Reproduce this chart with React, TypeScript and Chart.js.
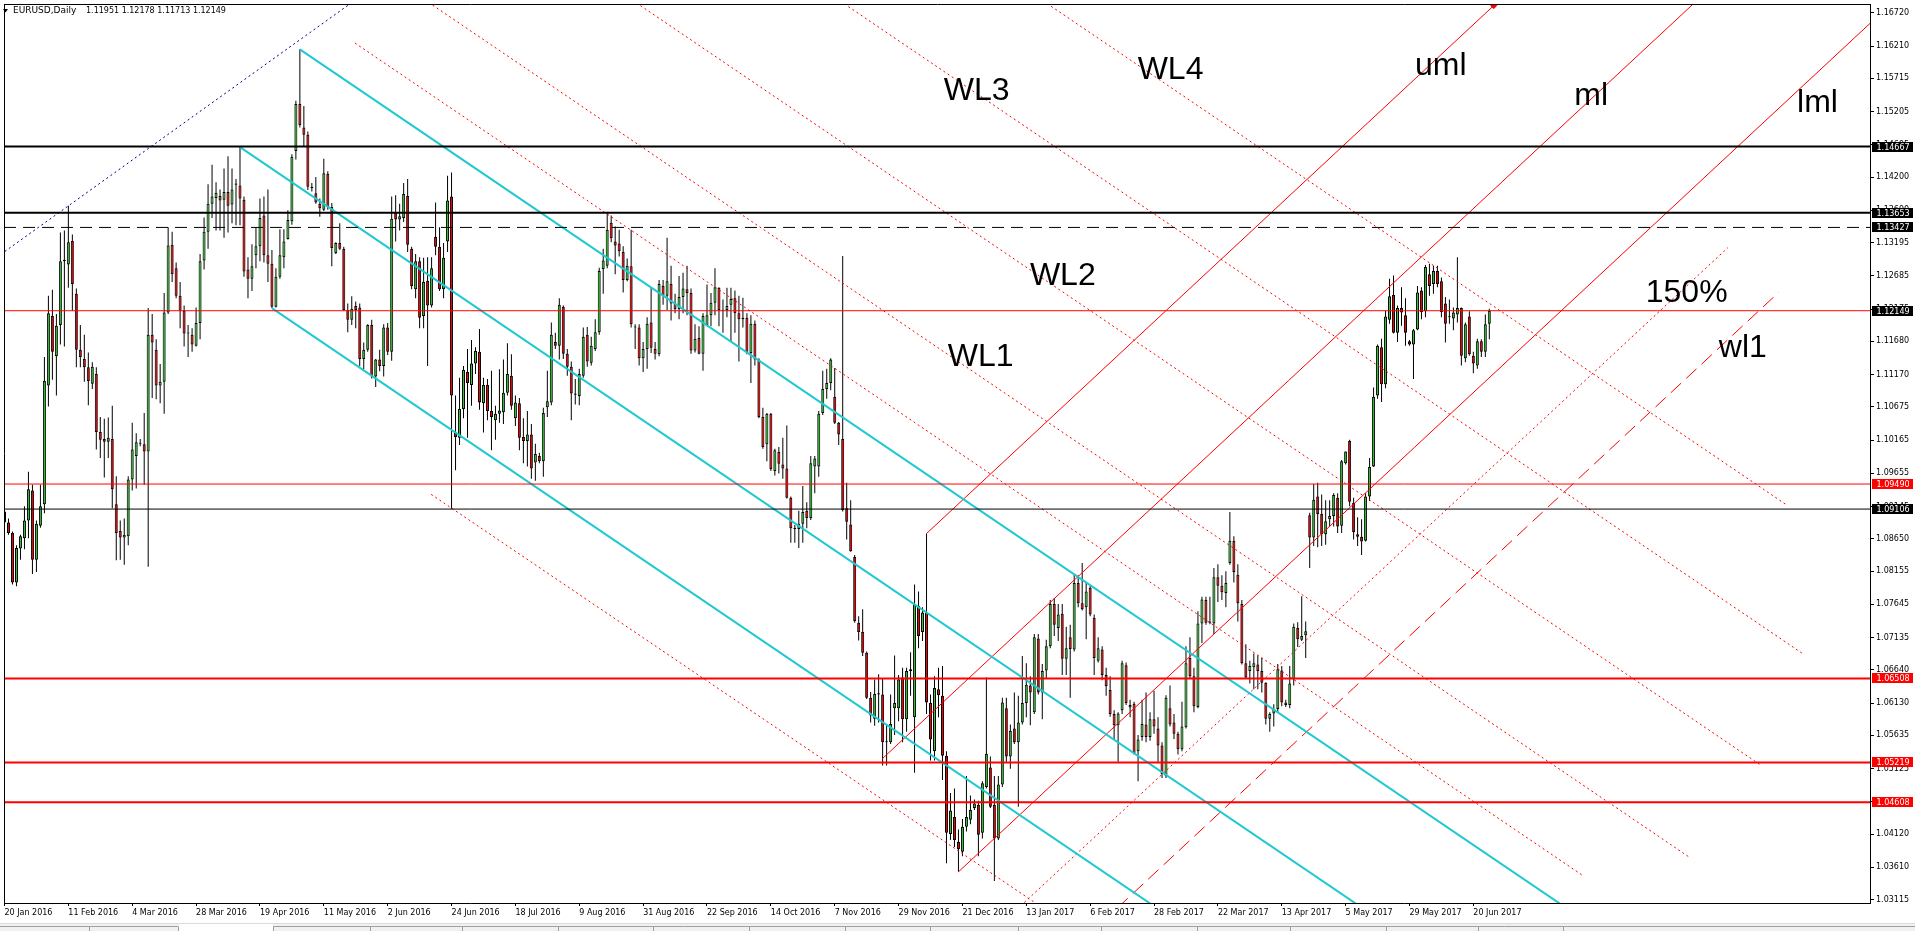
import React, { useEffect, useRef } from 'react';
import { Chart, registerables } from 'chart.js';

Chart.register(...registerables);

// ---------------- DATA ----------------
const opens = [
  1.0907,1.0890,1.0874,1.0798,1.0850,1.0866,1.0893,1.0939,1.0833,1.0885,
  1.0918,1.1100,1.1207,1.1145,1.1193,1.1291,1.1286,1.1322,1.1241,1.1155,
  1.1141,1.1128,1.1103,1.1118,1.1029,1.1018,1.1014,1.1018,1.0918,1.0877,
  1.0867,1.0869,1.0956,1.0992,1.1012,1.1010,1.0999,1.1178,1.1155,1.1100,
  1.1106,1.1212,1.1316,1.1280,1.1238,1.1215,1.1180,1.1178,1.1161,1.1196,
  1.1292,1.1336,1.1379,1.1388,1.1391,1.1385,1.1397,1.1378,1.1408,1.1407,
  1.1385,1.1278,1.1264,1.1300,1.1314,1.1361,1.1300,1.1287,1.1221,1.1267,
  1.1297,1.1325,1.1352,1.1460,1.1532,1.1496,1.1485,1.1405,1.1395,1.1379,
  1.1370,1.1425,1.1374,1.1303,1.1319,1.1310,1.1216,1.1201,1.1222,1.1220,
  1.1141,1.1155,1.1193,1.1114,1.1140,1.1130,1.1189,1.1152,1.1365,1.1355,
  1.1357,1.1391,1.1310,1.1248,1.1291,1.1207,1.1261,1.1223,1.1328,1.1313,
  1.1248,1.1321,1.1390,1.1028,1.1020,1.1064,1.1121,1.1101,1.1134,1.1152,
  1.1073,1.1101,1.1061,1.1047,1.1057,1.1059,1.1089,1.1115,1.1050,1.1073,
  1.1021,1.1015,1.1025,1.0982,1.0992,1.0984,1.1067,1.1074,1.1167,1.1161,
  1.1221,1.1149,1.1129,1.1088,1.1084,1.1115,1.1178,1.1135,1.1156,1.1182,
  1.1279,1.1284,1.1350,1.1321,1.1318,1.1305,1.1262,1.1283,1.1190,1.1189,
  1.1142,1.1156,1.1197,1.1156,1.1148,1.1253,1.1238,1.1256,1.1226,1.1217,
  1.1236,1.1248,1.1242,1.1154,1.1173,1.1149,1.1193,1.1208,1.1227,1.1250,
  1.1216,1.1216,1.1224,1.1234,1.1211,1.1204,1.1204,1.1150,1.1195,1.1140,
  1.1052,1.1010,1.1057,1.0969,1.0998,1.0979,1.0973,1.0928,1.0882,1.0880,
  1.0888,1.0908,1.0897,1.0976,1.0976,1.1058,1.1095,1.1104,1.1083,1.1043,
  1.1018,1.0912,1.0887,1.0837,1.0736,1.0722,1.0690,1.0621,1.0589,1.0626,
  1.0626,1.0553,1.0553,1.0605,1.0605,1.0652,1.0588,1.0662,1.0591,1.0762,
  1.0722,1.0752,1.0613,1.0539,1.0634,1.0624,1.0532,1.0412,1.0438,1.0400,
  1.0385,1.0423,1.0434,1.0452,1.0457,1.0414,1.0484,1.0514,1.0457,1.0405,
  1.0488,1.0605,1.0531,1.0574,1.0553,1.0583,1.0613,1.0640,1.0599,1.0712,
  1.0629,1.0663,1.0700,1.0765,1.0728,1.0750,1.0681,1.0714,1.0695,1.0797,
  1.0766,1.0760,1.0790,1.0744,1.0678,1.0695,1.0656,1.0633,1.0596,1.0579,
  1.0602,1.0671,1.0610,1.0612,1.0539,1.0561,1.0580,1.0561,1.0588,1.0574,
  1.0548,1.0501,1.0605,1.0583,1.0566,1.0542,1.0576,1.0682,1.0654,1.0607,
  1.0735,1.0771,1.0736,1.0735,1.0806,1.0793,1.0782,1.0828,1.0862,1.0810,
  1.0765,1.0674,1.0662,1.0668,1.0672,1.0662,1.0644,1.0589,1.0597,1.0604,
  1.0663,1.0614,1.0610,1.0649,1.0728,1.0710,1.0717,1.0901,1.0867,1.0930,
  1.0903,1.0872,1.0895,1.0900,1.0928,1.0885,1.0981,1.1015,1.0920,1.0872,
  1.0868,1.0862,1.0930,1.0976,1.1085,1.1159,1.1102,1.1201,1.1239,1.1181,
  1.1219,1.1208,1.1168,1.1163,1.1186,1.1246,1.1214,1.1271,1.1256,1.1276,
  1.1260,1.1226,1.1206,1.1203,1.1209,1.1219,1.1142,1.1206,1.1146,1.1131,
  1.1168,1.1152,1.11951,
];
const highs = [
  1.0920,1.0896,1.0876,1.0855,1.0871,1.0915,1.0968,1.0948,1.0893,1.0948,
  1.1144,1.1238,1.1247,1.1210,1.1335,1.1338,1.1376,1.1332,1.1249,1.1193,
  1.1178,1.1151,1.1136,1.1128,1.1052,1.1049,1.1051,1.1069,1.0961,1.0893,
  1.0896,1.0961,1.1043,1.1027,1.1018,1.1058,1.1219,1.1210,1.1171,1.1133,
  1.1242,1.1343,1.1336,1.1289,1.1259,1.1223,1.1193,1.1188,1.1220,1.1302,
  1.1358,1.1409,1.1439,1.1412,1.1401,1.1433,1.1452,1.1433,1.1417,1.1466,
  1.1390,1.1297,1.1317,1.1343,1.1387,1.1390,1.1401,1.1308,1.1280,1.1340,
  1.1340,1.1369,1.1455,1.1537,1.1616,1.1529,1.1490,1.1411,1.1420,1.1387,
  1.1448,1.1429,1.1380,1.1320,1.1349,1.1313,1.1226,1.1237,1.1229,1.1226,
  1.1166,1.1194,1.1201,1.1141,1.1155,1.1194,1.1196,1.1390,1.1392,1.1379,
  1.1411,1.1417,1.1313,1.1302,1.1297,1.1296,1.1297,1.1297,1.1381,1.1343,
  1.1319,1.1422,1.1427,1.1085,1.1112,1.1130,1.1156,1.1170,1.1159,1.1187,
  1.1112,1.1110,1.1123,1.1069,1.1125,1.1140,1.1165,1.1148,1.1085,1.1081,
  1.1050,1.1061,1.1041,1.1011,1.0997,1.1066,1.1123,1.1197,1.1181,1.1234,
  1.1223,1.1156,1.1137,1.1110,1.1126,1.1189,1.1190,1.1175,1.1202,1.1281,
  1.1310,1.1366,1.1361,1.1344,1.1339,1.1314,1.1295,1.1339,1.1194,1.1194,
  1.1167,1.1205,1.1251,1.1167,1.1262,1.1262,1.1327,1.1284,1.1241,1.1268,
  1.1273,1.1284,1.1249,1.1194,1.1191,1.1211,1.1255,1.1242,1.1280,1.1251,
  1.1232,1.1250,1.1250,1.1246,1.1238,1.1235,1.1211,1.1208,1.1200,1.1142,
  1.1066,1.1058,1.1058,1.1003,1.1006,1.1020,1.1039,1.0930,1.0886,1.0908,
  1.0946,1.0921,1.0992,1.0992,1.1061,1.1123,1.1126,1.1142,1.1127,1.1044,
  1.1299,1.0951,1.0924,1.0840,1.0746,1.0757,1.0692,1.0630,1.0649,1.0657,
  1.0651,1.0580,1.0626,1.0686,1.0656,1.0667,1.0667,1.0691,1.0795,1.0784,
  1.0760,1.0873,1.0626,1.0654,1.0667,1.0670,1.0539,1.0475,1.0482,1.0419,
  1.0435,1.0501,1.0471,1.0465,1.0463,1.0493,1.0652,1.0531,1.0501,1.0501,
  1.0621,1.0621,1.0580,1.0629,1.0624,1.0685,1.0674,1.0654,1.0719,1.0719,
  1.0673,1.0710,1.0771,1.0774,1.0765,1.0765,1.0730,1.0733,1.0810,1.0809,
  1.0828,1.0798,1.0793,1.0749,1.0714,1.0700,1.0667,1.0654,1.0602,1.0599,
  1.0678,1.0675,1.0618,1.0615,1.0564,1.0618,1.0629,1.0599,1.0632,1.0591,
  1.0553,1.0625,1.0640,1.0596,1.0569,1.0615,1.0700,1.0714,1.0667,1.0754,
  1.0776,1.0776,1.0776,1.0820,1.0826,1.0809,1.0815,1.0906,1.0869,1.0826,
  1.0771,1.0703,1.0678,1.0689,1.0686,1.0682,1.0645,1.0599,1.0611,1.0673,
  1.0670,1.0618,1.0670,1.0735,1.0737,1.0777,1.0738,1.0905,1.0949,1.0951,
  1.0933,1.0924,1.0924,1.0935,1.0935,1.0986,1.0999,1.1017,1.0928,1.0898,
  1.0895,1.0935,1.0989,1.1097,1.1163,1.1172,1.1215,1.1264,1.1269,1.1223,
  1.1251,1.1234,1.1170,1.1187,1.1253,1.1251,1.1285,1.1287,1.1284,1.1284,
  1.1266,1.1236,1.1232,1.1220,1.1297,1.1220,1.1197,1.1214,1.1152,1.1172,
  1.1171,1.1209,1.12178,
];
const lows = [
  1.0888,1.0871,1.0795,1.0792,1.0833,1.0849,1.0866,1.0811,1.0814,1.0882,
  1.0904,1.1068,1.1109,1.1085,1.1163,1.1160,1.1250,1.1215,1.1128,1.1128,
  1.1106,1.1070,1.1095,1.1002,1.0989,1.0959,1.0989,1.0912,1.0832,1.0833,
  1.0825,1.0855,1.0939,1.0942,1.1007,1.0948,1.0822,1.1081,1.1079,1.1073,
  1.1057,1.1210,1.1259,1.1234,1.1188,1.1160,1.1144,1.1152,1.1160,1.1171,
  1.1278,1.1310,1.1357,1.1338,1.1338,1.1327,1.1335,1.1349,1.1346,1.1346,
  1.1267,1.1234,1.1245,1.1280,1.1291,1.1289,1.1259,1.1219,1.1220,1.1264,
  1.1280,1.1324,1.1347,1.1447,1.1496,1.1466,1.1400,1.1398,1.1379,1.1359,
  1.1368,1.1370,1.1283,1.1302,1.1308,1.1215,1.1182,1.1193,1.1188,1.1130,
  1.1125,1.1152,1.1111,1.1098,1.1122,1.1114,1.1147,1.1138,1.1321,1.1338,
  1.1351,1.1305,1.1248,1.1234,1.1188,1.1188,1.1130,1.1220,1.1300,1.1245,
  1.1234,1.1305,1.0911,1.0970,1.1009,1.1050,1.1020,1.1069,1.1118,1.1063,
  1.1028,1.1047,1.1001,1.1017,1.1043,1.1041,1.1085,1.1063,1.1038,1.1001,
  1.0981,1.0976,1.0957,1.0954,1.0981,1.0960,1.1052,1.1070,1.1156,1.1140,
  1.1141,1.1115,1.1047,1.1071,1.1070,1.1112,1.1129,1.1131,1.1153,1.1178,
  1.1241,1.1280,1.1320,1.1271,1.1298,1.1243,1.1260,1.1189,1.1156,1.1131,
  1.1121,1.1126,1.1150,1.1140,1.1145,1.1224,1.1216,1.1200,1.1211,1.1202,
  1.1211,1.1208,1.1149,1.1151,1.1148,1.1123,1.1191,1.1191,1.1208,1.1191,
  1.1181,1.1205,1.1167,1.1181,1.1137,1.1189,1.1148,1.1104,1.1131,1.1050,
  1.1003,1.0984,1.0969,1.0962,1.0965,1.0957,1.0927,1.0859,1.0859,1.0851,
  1.0859,1.0881,1.0894,1.0935,1.0960,1.1055,1.1080,1.1093,1.1041,1.1009,
  1.0907,1.0864,1.0845,1.0736,1.0709,1.0685,1.0619,1.0583,1.0578,1.0583,
  1.0517,1.0517,1.0550,1.0564,1.0585,1.0553,1.0569,1.0624,1.0506,1.0697,
  1.0708,1.0596,1.0525,1.0525,1.0591,1.0495,1.0367,1.0403,1.0392,1.0354,
  1.0378,1.0416,1.0427,1.0449,1.0378,1.0405,1.0482,1.0452,1.0340,1.0403,
  1.0484,1.0523,1.0512,1.0550,1.0454,1.0580,1.0591,1.0579,1.0596,1.0626,
  1.0588,1.0651,1.0697,1.0716,1.0708,1.0656,1.0656,1.0621,1.0692,1.0760,
  1.0755,1.0711,1.0746,1.0656,1.0675,1.0648,1.0624,1.0592,1.0558,1.0523,
  1.0596,1.0610,1.0591,1.0534,1.0493,1.0555,1.0553,1.0555,1.0566,1.0523,
  1.0498,1.0498,1.0577,1.0558,1.0534,1.0539,1.0574,1.0651,1.0599,1.0605,
  1.0705,1.0733,1.0734,1.0719,1.0768,1.0771,1.0760,1.0825,1.0798,1.0738,
  1.0672,1.0651,1.0643,1.0634,1.0634,1.0629,1.0580,1.0569,1.0577,1.0599,
  1.0608,1.0607,1.0605,1.0640,1.0699,1.0708,1.0682,1.0820,1.0854,1.0852,
  1.0854,1.0856,1.0884,1.0884,1.0874,1.0874,1.0979,1.0915,1.0864,1.0854,
  1.0840,1.0861,1.0923,1.0975,1.1080,1.1075,1.1096,1.1195,1.1180,1.1167,
  1.1192,1.1161,1.1161,1.1110,1.1185,1.1202,1.1205,1.1238,1.1241,1.1251,
  1.1205,1.1166,1.1195,1.1185,1.1197,1.1131,1.1136,1.1146,1.1119,1.1126,
  1.1144,1.1144,1.11713,
];
const closes = [
  1.0890,1.0874,1.0798,1.0851,1.0869,1.0893,1.0941,1.0833,1.0888,1.0915,
  1.1107,1.1211,1.1152,1.1192,1.1291,1.1293,1.1320,1.1256,1.1155,1.1144,
  1.1128,1.1107,1.1129,1.1029,1.1017,1.1014,1.1020,1.0941,1.0874,1.0867,
  1.0871,1.0956,1.1002,1.1013,1.1011,1.0999,1.1178,1.1166,1.1100,1.1106,
  1.1212,1.1315,1.1271,1.1238,1.1215,1.1180,1.1181,1.1163,1.1196,1.1291,
  1.1336,1.1379,1.1390,1.1396,1.1384,1.1397,1.1376,1.1401,1.1410,1.1387,
  1.1275,1.1264,1.1283,1.1314,1.1357,1.1300,1.1287,1.1221,1.1267,1.1300,
  1.1321,1.1354,1.1451,1.1532,1.1500,1.1485,1.1405,1.1403,1.1381,1.1372,
  1.1426,1.1374,1.1311,1.1319,1.1310,1.1216,1.1201,1.1218,1.1216,1.1141,
  1.1155,1.1193,1.1114,1.1140,1.1130,1.1189,1.1152,1.1356,1.1355,1.1360,
  1.1394,1.1316,1.1253,1.1291,1.1204,1.1259,1.1223,1.1280,1.1313,1.1248,
  1.1296,1.1384,1.1085,1.1021,1.1064,1.1124,1.1104,1.1134,1.1153,1.1074,
  1.1101,1.1061,1.1052,1.1057,1.1062,1.1089,1.1118,1.1069,1.1074,1.1020,
  1.1015,1.1025,1.0973,1.0995,1.0984,1.1058,1.1076,1.1178,1.1161,1.1224,
  1.1149,1.1129,1.1088,1.1086,1.1118,1.1175,1.1137,1.1161,1.1182,1.1276,
  1.1292,1.1339,1.1326,1.1315,1.1306,1.1262,1.1284,1.1194,1.1189,1.1142,
  1.1156,1.1195,1.1158,1.1149,1.1256,1.1238,1.1260,1.1226,1.1217,1.1236,
  1.1249,1.1242,1.1154,1.1172,1.1149,1.1207,1.1208,1.1227,1.1251,1.1216,
  1.1215,1.1222,1.1233,1.1211,1.1202,1.1202,1.1152,1.1195,1.1140,1.1052,
  1.1006,1.1057,1.0972,1.1001,1.0980,1.0973,1.0928,1.0881,1.0880,1.0888,
  1.0906,1.0897,1.0981,1.0988,1.1057,1.1095,1.1104,1.1140,1.1043,1.1025,
  1.0909,1.0891,1.0846,1.0739,1.0722,1.0690,1.0621,1.0594,1.0627,1.0628,
  1.0553,1.0554,1.0581,1.0613,1.0649,1.0588,1.0662,1.0665,1.0764,1.0716,
  1.0752,1.0614,1.0557,1.0636,1.0625,1.0532,1.0414,1.0448,1.0403,1.0389,
  1.0423,1.0438,1.0449,1.0459,1.0411,1.0490,1.0535,1.0454,1.0405,1.0488,
  1.0614,1.0531,1.0570,1.0553,1.0583,1.0613,1.0641,1.0629,1.0714,1.0629,
  1.0662,1.0700,1.0765,1.0733,1.0749,1.0681,1.0697,1.0696,1.0797,1.0766,
  1.0757,1.0784,1.0749,1.0682,1.0697,1.0656,1.0639,1.0596,1.0579,1.0597,
  1.0674,1.0613,1.0606,1.0536,1.0557,1.0581,1.0561,1.0588,1.0577,1.0548,
  1.0504,1.0621,1.0580,1.0566,1.0542,1.0577,1.0674,1.0654,1.0608,1.0735,
  1.0772,1.0736,1.0738,1.0806,1.0793,1.0783,1.0797,1.0862,1.0814,1.0766,
  1.0674,1.0652,1.0670,1.0674,1.0662,1.0644,1.0589,1.0596,1.0604,1.0665,
  1.0614,1.0610,1.0643,1.0730,1.0711,1.0716,1.0723,1.0867,1.0925,1.0903,
  1.0872,1.0892,1.0900,1.0932,1.0884,1.0984,1.0999,1.0922,1.0875,1.0868,
  1.0861,1.0930,1.0975,1.1083,1.1161,1.1102,1.1206,1.1237,1.1181,1.1219,
  1.1212,1.1181,1.1163,1.1185,1.1243,1.1213,1.1282,1.1253,1.1276,1.1256,
  1.1213,1.1195,1.1205,1.1212,1.1219,1.1146,1.1194,1.1148,1.1134,1.1168,
  1.1152,1.1194,1.12149,
];

const symbolName = 'EURUSD,Daily';
const dateTickLabels = [
  '20 Jan 2016','11 Feb 2016','4 Mar 2016','28 Mar 2016','19 Apr 2016','11 May 2016',
  '2 Jun 2016','24 Jun 2016','18 Jul 2016','9 Aug 2016','31 Aug 2016','22 Sep 2016',
  '14 Oct 2016','7 Nov 2016','29 Nov 2016','21 Dec 2016','13 Jan 2017','6 Feb 2017',
  '28 Feb 2017','22 Mar 2017','13 Apr 2017','5 May 2017','29 May 2017','20 Jun 2017',
];
const barsPerDateTick = 16;
const priceTicks = [
  1.16720,1.16210,1.15715,1.15205,1.14695,1.14200,1.13690,1.13195,1.12685,1.12175,
  1.11680,1.11170,1.10675,1.10165,1.09655,1.09145,1.08650,1.08155,1.07645,1.07135,
  1.06640,1.06130,1.05635,1.05125,1.04615,1.04120,1.03610,1.03115,
];
const priceMin = 1.03062;
const priceMax = 1.16855;
const barMin = -0.125;
const barMax = 467.375;

// horizontal levels
const levelValues = [1.14667, 1.13653, 1.13427, 1.12149, 1.09490, 1.09106, 1.06508, 1.05219, 1.04608];

// trendline anchors [bar, price]
const blueLine = [[-5, 1.12835], [95, 1.17228]];
const channelLines = [
  [[74, 1.1616], [400, 1.02624]],
  [[59, 1.1466], [400, 1.00502]],
  [[67, 1.1219], [400, 0.98364]],
];
const warningLines = [
  [[200, 1.19403], [446.3, 1.09177]],
  [[200, 1.17289], [450.3, 1.06897]],
  [[150, 1.17217], [439.9, 1.05181]],
  [[100, 1.17139], [422.4, 1.03753]],
  [[87.8, 1.16256], [395.2, 1.03493]],
  [[106.9, 1.09331], [300, 1.01335]],
];
const medianLine = [[220, 1.0528], [430, 1.1725]];
const upperMedianLine = [[231, 1.0873], [373.1, 1.1683]];
const lowerMedianLine = [[239, 1.0354], [480, 1.17277]];
const line150 = [[250, 1.02756], [431.75, 1.13116]];
const lineWl1 = [[275, 1.02769], [444.5, 1.12431]];

const labelTexts = ['WL3', 'WL4', 'uml', 'ml', 'lml', 'WL2', '150%', 'WL1', 'wl1'];
const labelBars = [235.3, 283.9, 353.4, 393.3, 449.1, 256.9, 411.2, 236.3, 429.5];
const labelPrices = [1.15383, 1.15697, 1.15759, 1.15312, 1.15203, 1.12541, 1.12290, 1.11305, 1.11439];

// ---------------- STYLE ----------------
const GREEN = '#32CD32';
const RED = '#FF0000';
const CYAN = '#20C8D0';
const LEVEL_STYLE = [
  { color: '#000000', width: 2, dash: [] as number[], tag: '#000000' },
  { color: '#000000', width: 2, dash: [], tag: '#000000' },
  { color: '#000000', width: 1, dash: [12, 7], tag: '#000000' },
  { color: RED, width: 1, dash: [], tag: '#000000' },
  { color: RED, width: 1, dash: [], tag: RED },
  { color: '#000000', width: 1, dash: [], tag: '#000000' },
  { color: RED, width: 2, dash: [], tag: RED },
  { color: RED, width: 2, dash: [], tag: RED },
  { color: RED, width: 2, dash: [], tag: RED },
];
const TAB_SEPARATORS = [89, 178, 273, 370, 462, 558, 653, 749, 845, 930, 1018, 1101, 1197, 1290, 1386, 1478, 1563];

function seg(points: number[][], color: string, width: number, dash: number[], extra: any = {}) {
  return {
    type: 'line',
    data: points.map((p) => ({ x: p[0], y: p[1] })),
    borderColor: color,
    borderWidth: width,
    borderDash: dash,
    pointRadius: 0,
    pointHoverRadius: 0,
    fill: false,
    tension: 0,
    clip: 0,
    order: 0,
    ...extra,
  };
}

const mt4Plugin = {
  id: 'mt4',
  beforeDraw(chart: any) {
    const ctx = chart.ctx;
    ctx.save();
    ctx.fillStyle = '#ffffff';
    ctx.fillRect(0, 0, chart.width, chart.height);
    ctx.restore();
  },
  afterDraw(chart: any) {
    const { ctx, chartArea: a } = chart;
    const xs = chart.scales.x;
    const ys = chart.scales.y;
    ctx.save();

    // object text labels
    ctx.fillStyle = '#000';
    ctx.font = '32px "Liberation Sans", Arial, sans-serif';
    ctx.textAlign = 'left';
    ctx.textBaseline = 'alphabetic';
    labelTexts.forEach((t, i) => {
      ctx.fillText(t, xs.getPixelForValue(labelBars[i]), ys.getPixelForValue(labelPrices[i]));
    });

    // frame (top / left)
    ctx.strokeStyle = '#000';
    ctx.lineWidth = 1;
    ctx.beginPath();
    ctx.moveTo(a.left, a.top + 0.5);
    ctx.lineTo(a.right + 1, a.top + 0.5);
    ctx.moveTo(a.left + 0.5, a.top);
    ctx.lineTo(a.left + 0.5, a.bottom);
    ctx.stroke();

    // price tags
    ctx.font = '8px "DejaVu Sans"';
    ctx.textBaseline = 'middle';
    levelValues.forEach((v, i) => {
      const py = Math.round(ys.getPixelForValue(v));
      ctx.fillStyle = LEVEL_STYLE[i].tag;
      ctx.fillRect(a.right + 2, py - 5, 41, 10);
      ctx.fillStyle = '#fff';
      ctx.fillText(v.toFixed(5), a.right + 6.5, py + 0.5);
    });

    // header
    const last = opens.length - 1;
    ctx.fillStyle = '#000';
    ctx.beginPath();
    ctx.moveTo(3, 9);
    ctx.lineTo(8, 9);
    ctx.lineTo(5.5, 12.5);
    ctx.closePath();
    ctx.fill();
    ctx.font = '9px "DejaVu Sans"';
    ctx.fillText(symbolName, 13, 11);
    ctx.font = '8px "DejaVu Sans"';
    ctx.fillText([opens[last], highs[last], lows[last], closes[last]].map((v) => v.toFixed(5)).join(' '), 86, 11);

    // bottom tab strip
    const H = chart.height;
    ctx.fillStyle = '#F0F0F0';
    ctx.fillRect(0, 924, chart.width, H - 924);
    ctx.strokeStyle = '#DCDCDC';
    ctx.beginPath();
    ctx.moveTo(0, 923.5);
    ctx.lineTo(chart.width, 923.5);
    ctx.stroke();
    ctx.strokeStyle = '#A0A0A0';
    ctx.beginPath();
    ctx.moveTo(0, 926.5);
    ctx.lineTo(TAB_SEPARATORS[1], 926.5);
    ctx.moveTo(TAB_SEPARATORS[2], 926.5);
    ctx.lineTo(chart.width, 926.5);
    TAB_SEPARATORS.forEach((sx) => {
      ctx.moveTo(sx + 0.5, 926.5);
      ctx.lineTo(sx + 0.5, H);
    });
    ctx.stroke();
    ctx.fillStyle = '#FFFFFF';
    ctx.fillRect(TAB_SEPARATORS[1] + 1, 924, TAB_SEPARATORS[2] - TAB_SEPARATORS[1] - 1, H - 924);

    ctx.restore();
  },
};

export default function App() {
  const ref = useRef<HTMLCanvasElement | null>(null);

  useEffect(() => {
    document.body.style.margin = '0';
    document.body.style.overflow = 'hidden';
    const idx = opens.map((_, i) => i);
    const wickData = idx.map((i) => ({ x: i, y: [lows[i], highs[i]] }));
    const bodyData = idx.map((i) => ({ x: i, y: [opens[i], closes[i]] }));
    const bodyColors = idx.map((i) => (closes[i] >= opens[i] ? GREEN : RED));

    const datasets: any[] = [
      {
        type: 'bar',
        data: wickData,
        backgroundColor: '#000000',
        borderWidth: 0,
        barThickness: 1,
        grouped: false,
        minBarLength: 1,
        inflateAmount: 0,
        order: 20,
      },
      {
        type: 'bar',
        data: bodyData,
        backgroundColor: bodyColors,
        borderColor: '#000000',
        borderWidth: 1,
        borderSkipped: false,
        barThickness: 3,
        grouped: false,
        minBarLength: 1,
        inflateAmount: 0,
        order: 10,
      },
    ];

    levelValues.forEach((v, i) => {
      const st = LEVEL_STYLE[i];
      datasets.push(seg([[barMin, v], [barMax, v]], st.color, st.width, st.dash));
    });
    datasets.push(seg(blueLine, '#000080', 1, [2, 3]));
    channelLines.forEach((l) => datasets.push(seg(l, CYAN, 2, [])));
    warningLines.forEach((l) => datasets.push(seg(l, RED, 1, [2, 3])));
    datasets.push(seg(medianLine, RED, 1, []));
    datasets.push(seg(upperMedianLine, RED, 1, [], { pointRadius: [0, 3], pointStyle: 'rectRot', pointBackgroundColor: RED, pointBorderColor: RED }));
    datasets.push(seg(lowerMedianLine, RED, 1, []));
    datasets.push(seg(line150, RED, 1, [2, 3]));
    datasets.push(seg(lineWl1, RED, 1, [14, 7]));

    const chart = new Chart(ref.current as HTMLCanvasElement, {
      type: 'bar',
      data: { datasets },
      options: {
        responsive: false,
        maintainAspectRatio: false,
        animation: false,
        devicePixelRatio: 1,
        events: [],
        layout: { padding: 0 },
        plugins: { legend: { display: false }, tooltip: { enabled: false }, title: { display: false } },
        scales: {
          x: {
            type: 'linear',
            position: 'bottom',
            min: barMin,
            max: barMax,
            offset: false,
            afterBuildTicks: (scale: any) => {
              scale.ticks = dateTickLabels.map((_, k) => ({ value: k * barsPerDateTick }));
            },
            afterFit: (scale: any) => {
              scale.height = 28;
              scale.paddingLeft = 0;
              scale.paddingRight = 0;
            },
            ticks: {
              autoSkip: false,
              maxRotation: 0,
              minRotation: 0,
              align: 'start',
              padding: 2,
              color: '#000',
              font: { family: 'DejaVu Sans', size: 8 },
              callback: (v: any) => dateTickLabels[Math.round(Number(v) / barsPerDateTick)] ?? '',
            },
            grid: { drawOnChartArea: false, drawTicks: true, tickLength: 3, color: '#000', offset: false },
            border: { display: true, color: '#000', width: 1 },
          },
          y: {
            type: 'linear',
            position: 'right',
            min: priceMin,
            max: priceMax,
            afterBuildTicks: (scale: any) => {
              scale.ticks = priceTicks.map((v) => ({ value: v }));
            },
            afterFit: (scale: any) => {
              scale.width = 45;
              scale.paddingTop = 0;
              scale.paddingBottom = 0;
            },
            ticks: {
              autoSkip: false,
              padding: 2,
              color: '#000',
              font: { family: 'DejaVu Sans', size: 8 },
              callback: (v: any) => Number(v).toFixed(5),
            },
            grid: { drawOnChartArea: false, drawTicks: true, tickLength: 4, color: '#000' },
            border: { display: true, color: '#000', width: 1 },
          },
        },
      } as any,
      plugins: [mt4Plugin],
    } as any);

    return () => chart.destroy();
  }, []);

  return (
    <div style={{ width: 1915, height: 931, overflow: 'hidden' }}>
      <canvas ref={ref} width={1915} height={931} style={{ display: 'block', width: 1915, height: 931 }} />
    </div>
  );
}
